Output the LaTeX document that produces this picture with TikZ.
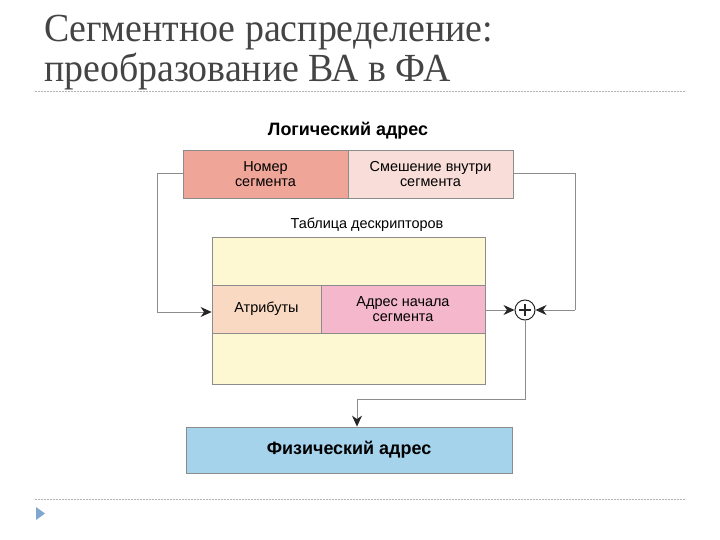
\documentclass[tikz,border=0pt]{standalone}
\usepackage{fontspec}
\setmainfont{Liberation Serif}
\newfontfamily\titlefont[FakeStretch=0.95]{Liberation Serif}
\newfontfamily\diagfont{Liberation Sans}
\usetikzlibrary{arrows.meta}
\definecolor{titlegray}{HTML}{444444}
\definecolor{linegray}{HTML}{8C8C8C}
\definecolor{segnum}{HTML}{EFA698}
\definecolor{segoff}{HTML}{F9DDD8}
\definecolor{tabfill}{HTML}{FDF8D2}
\definecolor{attrfill}{HTML}{F9D9C2}
\definecolor{basefill}{HTML}{F4B7CB}
\definecolor{physfill}{HTML}{A6D3EC}
\definecolor{bullet}{HTML}{7FA7CF}
\tikzset{
  cell/.style={draw=linegray, line width=0.8bp, inner sep=0pt, align=center,
    font=\diagfont\fontsize{14.5}{15.5}\selectfont, text=black},
  conn/.style={draw=linegray, line width=1bp},
  tip/.style={-{Stealth[length=11bp,width=10bp,inset=3.5bp,color=black!85]}},
  hdr/.style={font=\diagfont\bfseries\fontsize{18}{20}\selectfont, text=black},
  sub/.style={font=\diagfont\fontsize{14.5}{16}\selectfont, text=black},
  rule/.style={draw=gray!60, dashed, dash pattern=on 2bp off 1bp, line width=0.8bp},
  ttl/.style={anchor=base west, inner sep=0pt, text=titlegray, font=\titlefont\fontsize{40}{46}\selectfont}
}
\begin{document}
\begin{tikzpicture}[x=1bp,y=-1bp]
\useasboundingbox (0,0) rectangle (720,540);
% title
\node[ttl] (t1) at (44,42) {Сегментное распределение:};
\node[ttl] (t2) at (44,82) {преобразование ВА в ФА};
\draw[rule] (35,91) -- (686,91);
\draw[rule] (35,499) -- (686,499);
\fill[bullet] (36,507) -- (45,513.5) -- (36,520) -- cycle;
% logical address
\node[hdr] (la) at (348,131) {Логический адрес};
\node[cell, fill=segnum, minimum width=165bp, minimum height=48bp] (num) at (265.5,174) {Номер\\сегмента};
\node[cell, fill=segoff, minimum width=165bp, minimum height=48bp] (off) at (430.5,174) {Смешение внутри\\сегмента};
% table
\node[sub] (tl) at (367,225) {Таблица дескрипторов};
\node[cell, fill=tabfill, minimum width=273bp, minimum height=147bp] (tab) at (348.5,310.5) {};
\node[cell, fill=attrfill, minimum width=109bp, minimum height=48bp] (attr) at (266.5,309) {Атрибуты};
\node[cell, fill=basefill, minimum width=164bp, minimum height=48bp] (base) at (403,309) {Адрес начала\\сегмента};
% adder
\node[draw=black!85, line width=1bp, circle, minimum size=20bp, inner sep=0pt, fill=white] (plus) at (525,310) {};
\draw[black!85, line width=1.2bp] (519,310) -- (531,310) (525,304) -- (525,316);
% physical address
\node[cell, fill=physfill, minimum width=326bp, minimum height=46bp,
  font=\diagfont\bfseries\fontsize{18}{20}\selectfont] (phys) at (349,450) {Физический адрес};
% connectors
\coordinate (lc1) at (157,174);
\coordinate (lc2) at (157,312);
\coordinate (rc1) at (575,174);
\coordinate (rc2) at (575,310);
\coordinate (dc1) at (525,399);
\coordinate (dc2) at (357,399);
\draw[conn] (num.west) -- (lc1) -- (lc2);
\draw[conn, tip] (lc2) -- (attr.west |- lc2);
\draw[conn] (off.east) -- (rc1) -- (rc2);
\draw[conn, tip] (rc2) -- (plus.east);
\draw[conn, tip] (base.east |- plus) -- (plus.west);
\draw[conn] (plus.south) -- (dc1) -- (dc2);
\draw[conn, tip] (dc2) -- (dc2 |- phys.north);
\end{tikzpicture}
\end{document}
